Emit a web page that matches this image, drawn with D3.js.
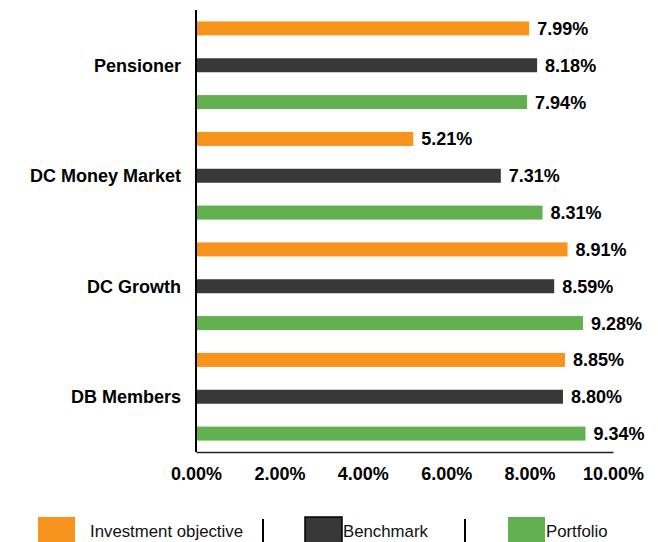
<!DOCTYPE html>
<html><head><meta charset="utf-8">
<script src="https://cdn.jsdelivr.net/npm/d3@7"></script>
<style>body{margin:0;background:#fff;}svg{display:block;}</style>
</head><body>
<svg id="c" width="658" height="542"></svg>
<script>
const categories = ["Pensioner", "DC Money Market", "DC Growth", "DB Members"];
const seriesNames = ["Investment objective", "Benchmark", "Portfolio"];
const investmentObjective = [7.99, 5.21, 8.91, 8.85];
const benchmark = [8.18, 7.31, 8.59, 8.80];
const portfolio = [7.94, 8.31, 9.28, 9.34];
const xTicks = [0, 2, 4, 6, 8, 10];
const colors = ["#F7941E", "#383838", "#62B050"];

(function() {
const seriesValues = [investmentObjective, benchmark, portfolio];
const svg = d3.select("#c");
const mLeft = 196, mRight = 613, mTop = 10, mBottom = 452;

const x = d3.scaleLinear().domain([0, 10]).range([mLeft, mRight]);
const y0 = d3.scaleBand().domain(categories).range([mTop, mBottom]).padding(0);
const y1 = d3.scaleBand().domain(seriesNames).range([0, y0.bandwidth()]).padding(0);
const barH = 14;
const font = "Liberation Sans, Arial, sans-serif";

const groups = svg.selectAll("g.cat").data(categories).enter().append("g")
  .attr("class", "cat")
  .attr("transform", d => `translate(0,${y0(d)})`);

groups.each(function(cat, ci) {
  const g = d3.select(this);
  seriesNames.forEach((s, si) => {
    const v = seriesValues[si][ci];
    const cy = y1(s) + y1.bandwidth() / 2;
    g.append("rect")
      .attr("x", x(0)).attr("y", cy - barH / 2)
      .attr("width", x(v) - x(0)).attr("height", barH)
      .attr("fill", colors[si]);
    g.append("text")
      .attr("x", x(v) + 8).attr("y", cy).attr("dy", "0.36em")
      .attr("font-family", font)
      .attr("font-weight", "bold").attr("font-size", 18)
      .attr("fill", "#000").text(v.toFixed(2) + "%");
  });
  g.append("text")
    .attr("x", 181).attr("y", y1("Benchmark") + y1.bandwidth() / 2).attr("dy", "0.36em")
    .attr("text-anchor", "end")
    .attr("font-family", font)
    .attr("font-weight", "bold").attr("font-size", 18)
    .attr("fill", "#000").text(cat);
});

const xAxis = d3.axisBottom(x).tickValues(xTicks).tickSize(0).tickPadding(15)
  .tickFormat(d => d.toFixed(2) + "%");
const ax = svg.append("g").attr("transform", `translate(0,${mBottom})`).call(xAxis);
ax.select(".domain").attr("stroke", "#222").attr("stroke-width", 1.5);
ax.selectAll("text").attr("font-family", font)
  .attr("font-weight", "bold").attr("font-size", 18).attr("fill", "#000");

svg.append("line").attr("x1", mLeft).attr("x2", mLeft).attr("y1", mTop).attr("y2", mBottom)
  .attr("stroke", "#000").attr("stroke-width", 2);

const legendX = [38, 305, 508];
const textX = [90, 343, 546];
const sepX = [263, 465];
seriesNames.forEach((s, i) => {
  svg.append("rect").attr("x", legendX[i]).attr("y", 517).attr("width", 37).attr("height", 28)
    .attr("fill", colors[i])
    .attr("stroke", i === 1 ? "#000" : "none").attr("stroke-width", 1.5);
  svg.append("text").attr("x", textX[i]).attr("y", 537)
    .attr("font-family", font)
    .attr("font-size", 16.8).attr("fill", "#111").text(s);
});
sepX.forEach(sx => {
  svg.append("line").attr("x1", sx).attr("x2", sx).attr("y1", 519).attr("y2", 542)
    .attr("stroke", "#000").attr("stroke-width", 2);
});
})();
</script>
</body></html>
